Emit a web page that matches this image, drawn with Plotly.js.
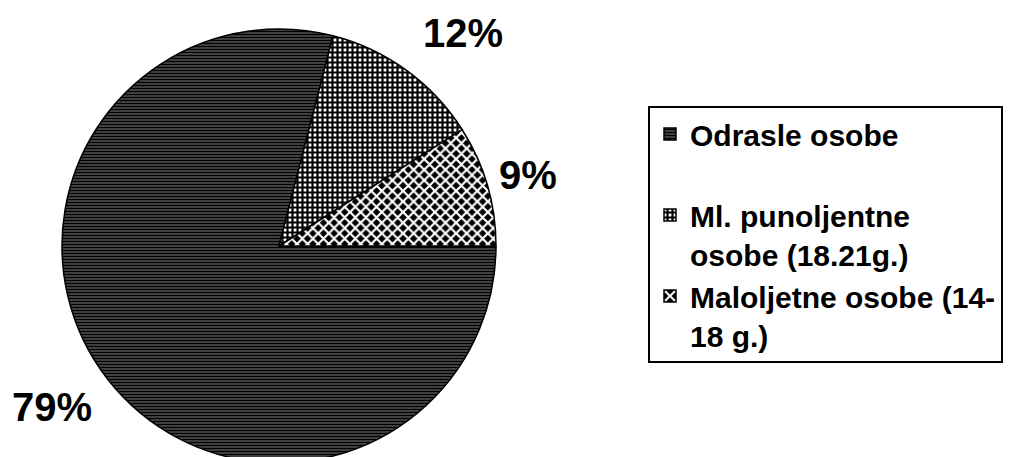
<!DOCTYPE html>
<html>
<head>
<meta charset="utf-8">
<script src="https://cdn.plot.ly/plotly-3.0.1.min.js"></script>
<style>
html, body { margin: 0; padding: 0; overflow: hidden; background: #fff; }
#chart { width: 1010px; height: 466px; }
</style>
</head>
<body>
<div id="chart"></div>
<script>
// Data
const categories = ["Odrasle osobe", "Ml. punoljentne osobe (18.21g.)", "Maloljetne osobe (14-18 g.)"];
const legendLabels = ["Odrasle osobe<br>&nbsp;", "Ml. punoljentne<br>osobe (18.21g.)", "Maloljetne osobe (14-<br>18 g.)"];
const values = [79, 12, 9];
const percentLabels = values.map(v => v + "%");

const W = 1010, H = 466;
const px = (x) => x / W;
const py = (y) => 1 - y / H;

// label anchor positions (layout, pixels)
const labelPos = [[52, 407], [463, 33], [528, 175]];

const trace = {
  type: "pie",
  labels: legendLabels,
  values: values,
  sort: false,
  direction: "clockwise",
  rotation: 90,
  textinfo: "none",
  hoverinfo: "label+percent",
  domain: { x: [px(62), px(496)], y: [py(463), py(29)] },
  marker: {
    colors: ["#444444", "#ffffff", "#000000"],
    line: { color: "#000000", width: 1.5 },
    pattern: {
      shape: ["-", "+", "x"],
      fgcolor: ["#000000", "#000000", "#ffffff"],
      bgcolor: ["#8c8c8c", "#ffffff", "#000000"],
      size: [3, 5, 7.5],
      solidity: [0.7, 0.68, 0.5],
      fillmode: "replace"
    }
  }
};

const annotations = percentLabels.map((t, i) => ({
  text: t,
  x: px(labelPos[i][0]),
  y: py(labelPos[i][1]),
  xref: "paper", yref: "paper",
  xanchor: "center", yanchor: "middle",
  showarrow: false,
  font: { family: "Liberation Sans, Arial, sans-serif", size: 40, color: "#000", weight: "bold" }
}));

const layout = {
  width: W, height: H,
  margin: { l: 0, r: 0, t: 0, b: 0 },
  paper_bgcolor: "#ffffff",
  showlegend: true,
  legend: {
    x: px(648), y: py(106),
    xanchor: "left", yanchor: "top",
    bgcolor: "#ffffff",
    bordercolor: "#000000",
    borderwidth: 2,
    valign: "top",
    font: { family: "Liberation Sans, Arial, sans-serif", size: 30, color: "#000", weight: "bold" }
  },
  annotations: annotations
};

Plotly.newPlot("chart", [trace], layout, { displayModeBar: false, staticPlot: true });
</script>
</body>
</html>
